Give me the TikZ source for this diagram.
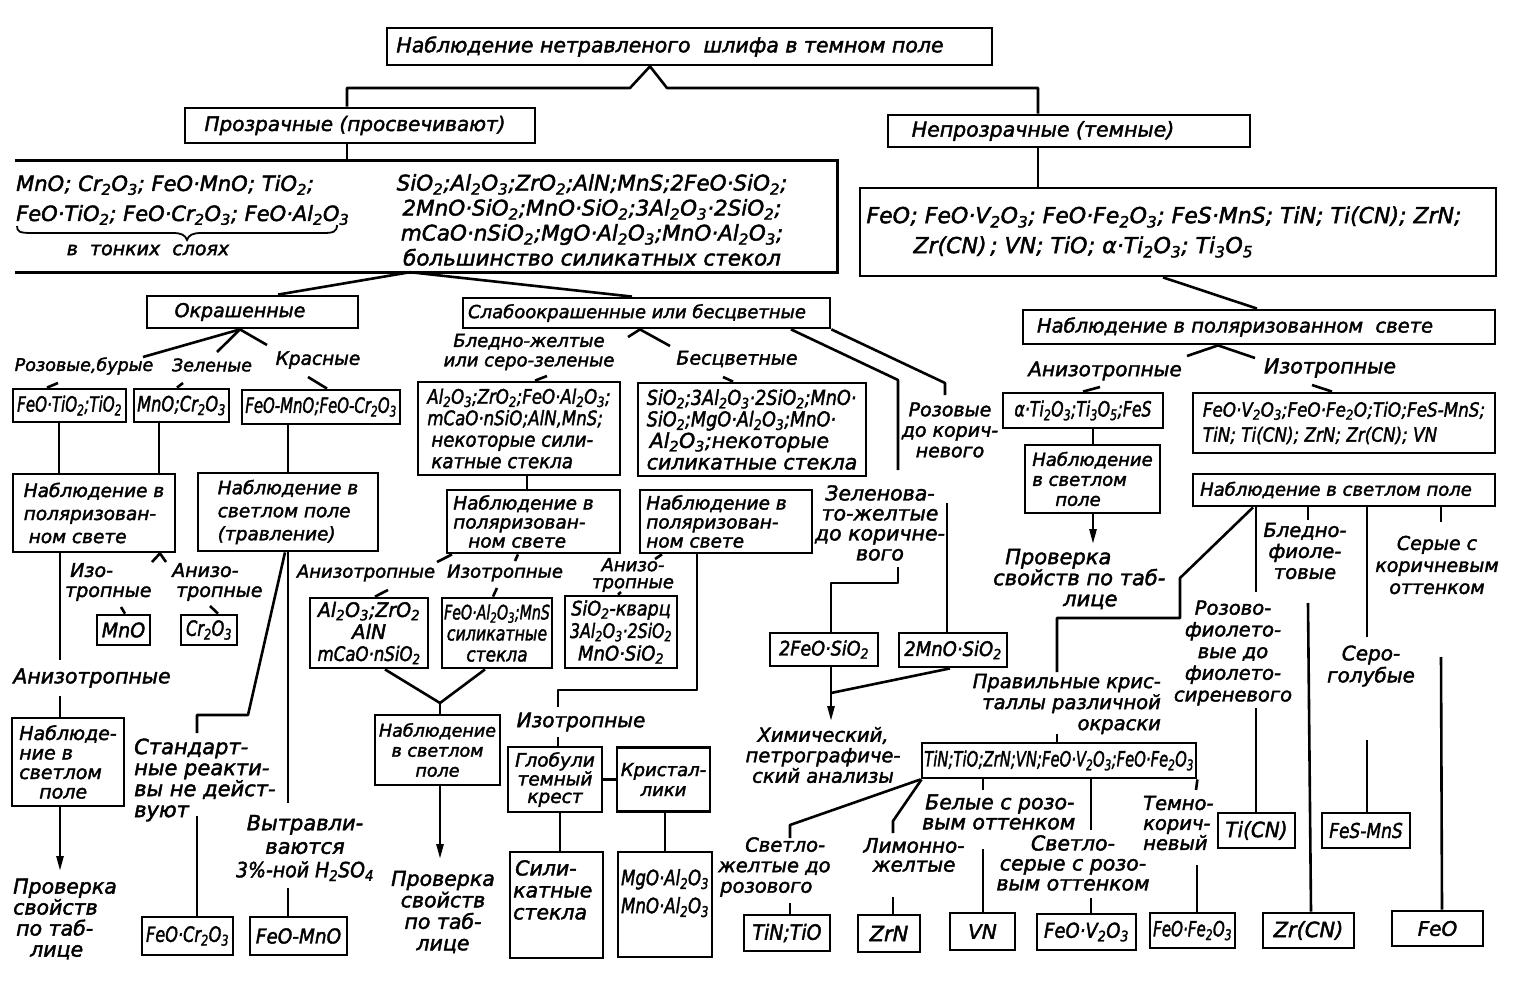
\documentclass[tikz,border=0pt]{standalone}
\usepackage{fontspec}
\usepackage{graphicx}
\usetikzlibrary{arrows.meta}
\newfontfamily\dvs{DejaVu Sans}[FakeBold=2]
\newcommand\fz[2]{\dvs\itshape\fontsize{#1}{#2}\selectfont}
\newcommand\ssb[1]{\textsubscript{#1}}
\newcommand\hx[2]{\scalebox{#1}[1]{#2}}
\tikzset{
 bx/.style={draw, line width=2.8pt, inner sep=0pt, align=center},
 tx/.style={inner sep=0pt, align=center},
 ln/.style={line width=2.6pt, line join=round},
 arr/.style={line width=2.6pt, -{Triangle[length=15pt,width=7pt]}},
}
\begin{document}
\begin{tikzpicture}[x=1pt,y=-1pt]
\useasboundingbox (0,0) rectangle (1518,987);

% ---------- top level
\node[bx, minimum width=605pt, minimum height=37pt, font={\fz{20.5}{24}}] (T) at (689.5,46.5) {Наблюдение нетравленого\ \ шлифа в темном поле\hspace*{39pt}};
\node[bx, minimum width=350pt, minimum height=35pt, font={\fz{20}{24}}] (B2) at (360,125.5) {Прозрачные (просвечивают)\hspace*{10pt}};
\node[bx, minimum width=362pt, minimum height=32pt, font={\fz{20.5}{24}}] (B3) at (1069,131) {Непрозрачные (темные)\hspace*{52pt}};

% left open box
\node[minimum width=822pt, minimum height=111pt, inner sep=0pt] (LB) at (426,216.5) {};
\draw[line width=2.6pt] (LB.north west) -- (LB.north east) -- (LB.south east) -- (LB.south west);
\node[tx, align=left, anchor=west, font={\fz{21}{30}}] (LT1) at (16,200) {MnO; Cr\ssb2O\ssb3; FeO·MnO; TiO\ssb2;\\FeO·TiO\ssb2; FeO·Cr\ssb2O\ssb3; FeO·Al\ssb2O\ssb3};
\draw[line width=1.8pt] (17,226) .. controls (17,232) and (20,233) .. (32,233) -- (172,233) .. controls (182,233) and (185,235) .. (187,240) .. controls (189,235) and (192,233) .. (202,233) -- (323,233) .. controls (333,233) and (337,232) .. (337,225);
\node[tx, font={\fz{19}{22}}] (LT3) at (148,250) {в\ \ тонких\ \ слоях};
\node[tx, font={\fz{21.5}{25}}] (LT2) at (592,220) {SiO\ssb2;Al\ssb2O\ssb3;ZrO\ssb2;AlN;MnS;2FeO·SiO\ssb2;\\2MnO·SiO\ssb2;MnO·SiO\ssb2;3Al\ssb2O\ssb3·2SiO\ssb2;\\mCaO·nSiO\ssb2;MgO·Al\ssb2O\ssb3;MnO·Al\ssb2O\ssb3;\\большинство силикатных стекол};

% right formula box
\node[bx, minimum width=636pt, minimum height=88pt, align=left, font={\fz{22}{30}}] (RB) at (1178,232) {FeO; FeO·V\ssb2O\ssb3; FeO·Fe\ssb2O\ssb3; FeS·MnS; TiN; Ti(CN); ZrN;\hspace*{28pt}\\\hspace*{47pt}Zr(CN)\,; VN; TiO; α·Ti\ssb2O\ssb3; Ti\ssb3O\ssb5};

\draw[ln] (T.south -| 650,0) -- (630,88) -- (347,88) -- (B2.north -| 347,0);
\draw[ln] (T.south -| 650,0) -- (667,88) -- (1038,88) -- (B3.north -| 1038,0);
\draw[ln] (B2.south -| 347,0) -- (LB.north -| 347,0);
\draw[ln] (B3.south -| 1038,0) -- (RB.north -| 1038,0);

% ---------- coloured branch
\node[bx, minimum width=211pt, minimum height=32pt, font={\fz{19}{22}}] (OK) at (252.5,312) {Окрашенные\hspace*{25pt}};
\node[bx, minimum width=367pt, minimum height=30pt, font={\fz{18}{20}}] (SL) at (646.5,313) {Слабоокрашенные или бесцветные\hspace*{19pt}};
\draw[ln] (LB.south -| 410,0) -- (OK.north -| 278,0);
\draw[ln] (LB.south -| 410,0) -- (SL.north -| 632,0);

\draw[ln] (143,357) -- (OK.south -| 240,0) -- (267,345);
\draw[ln] (OK.south -| 240,0) -- (217,352);
\node[tx, font={\fz{17.5}{20}}] (Lroz) at (84,366) {Розовые,бурые};
\node[tx, font={\fz{17.5}{20}}] (Lzel) at (212,365) {Зеленые};
\node[tx, font={\fz{18.5}{20}}] (Lkr) at (318,360) {Красные};

\node[bx, minimum width=113pt, minimum height=33pt, font={\fz{21}{22}}] (B5a) at (69.5,405.5) {\hx{0.72}{FeO·TiO\ssb2;TiO\ssb2}};
\node[bx, minimum width=95pt, minimum height=33pt, font={\fz{21}{22}}] (B5b) at (181.5,405.5) {\hx{0.77}{MnO;Cr\ssb2O\ssb3}};
\node[bx, minimum width=158pt, minimum height=34pt, font={\fz{21}{22}}] (B5c) at (321,407) {\hx{0.71}{FeO-MnO;FeO-Cr\ssb2O\ssb3}};
\draw[ln] (B5a.north -| 47,0) -- (58,383);
\draw[ln] (B5b.north -| 177,0) -- (183,383);
\draw[ln] (B5c.north -| 327,0) -- (308,377);

\node[bx, minimum width=162pt, minimum height=78pt, align=left, font={\fz{18.5}{23}}] (P1) at (94,513) {Наблюдение в\\поляризован-\\\hspace*{5pt}ном свете};
\node[bx, minimum width=180pt, minimum height=78pt, align=left, font={\fz{18.5}{23}}] (S1) at (288,512) {Наблюдение в\\светлом поле\\(травление)};
\draw[ln] (B5a.south -| 59,0) -- (P1.north -| 59,0);
\draw[ln] (B5b.south -| 159,0) -- (P1.north -| 159,0);
\draw[ln] (B5c.south -| 288,0) -- (S1.north -| 288,0);

\draw[ln] (152,562) -- (P1.south -| 160,0) -- (166,562);
\node[tx, align=left, anchor=west, font={\fz{19}{20}}] (Liz) at (65,582) {\hspace*{5pt}Изо-\\тропные};
\node[tx, align=left, anchor=west, font={\fz{19}{20}}] (Lan) at (172,582) {Анизо-\\\hspace*{4pt}тропные};
\node[bx, minimum width=53pt, minimum height=30pt, font={\fz{20}{20}}] (B6a) at (123.5,630) {\hx{0.95}{MnO}};
\node[bx, minimum width=56pt, minimum height=30pt, font={\fz{21}{20}}] (B6b) at (209,630) {\hx{0.77}{Cr\ssb2O\ssb3}};
\draw[ln] (B6a.north -| 125,0) -- (121,607);
\draw[ln] (B6b.north -| 218,0) -- (210,606);

\draw[ln] (P1.south -| 60,0) -- (60,660);
\node[tx, font={\fz{20.5}{22}}] (Lan2) at (92,678) {Анизотропные};
\node[bx, minimum width=112pt, minimum height=88pt, align=left, font={\fz{19}{19.5}}] (P2) at (68,762) {Наблюде-\\ние в\\светлом\\\hspace*{20pt}поле};
\draw[ln] (60,696) -- (P2.north -| 60,0);
\draw[arr] (P2.south -| 60,0) -- (60,871);
\node[tx, align=left, anchor=west, font={\fz{20.5}{21}}] (Lpr1) at (13,919) {Проверка\\свойств\\\hspace*{3pt}по таб-\\\hspace*{17pt}лице};

\draw[ln] (S1.south -| 288,0) -- (288,803);
\draw[ln] (S1.south -| 285,0) -- (248,715) -- (197,715) -- (197,733);
\node[tx, align=left, anchor=west, font={\fz{21}{21}}] (Lst) at (134,780) {Стандарт-\\ные реакти-\\вы не дейст-\\вуют};
\node[tx, font={\fz{21}{23.5}}] (Lvy) at (305,848) {Вытравли-\\ваются\\\hx{0.9}{3\%-ной H\ssb2SO\ssb4}};
\node[bx, minimum width=91pt, minimum height=38pt, font={\fz{21}{22}}] (B7a) at (187.5,936) {\hx{0.77}{FeO·Cr\ssb2O\ssb3}};
\node[bx, minimum width=97pt, minimum height=38pt, font={\fz{20.5}{22}}] (B7b) at (298.5,936) {\hx{0.9}{FeO-MnO}};
\draw[ln] (197,816) -- (B7a.north -| 197,0);
\draw[ln] (288,888) -- (B7b.north -| 288,0);

% ---------- weakly coloured branch
\draw[ln] (628,337) -- (SL.south -| 640,0) -- (670,346);
\draw[ln] (SL.south -| 791,0) -- (898,380) -- (898,470);
\draw[ln] (SL.south east) -- (945,383) -- (945,395);
\node[tx, font={\fz{18}{19.5}}] (Lbl) at (529,352) {Бледно-желтые\\или серо-зеленые};
\node[tx, font={\fz{19}{20}}] (Lbs) at (737,359) {Бесцветные};

\node[bx, minimum width=202pt, minimum height=93pt, align=left, font={\fz{20}{21.5}}] (M1) at (519,428.5) {\hx{0.83}{Al\ssb2O\ssb3;ZrO\ssb2;FeO·Al\ssb2O\ssb3;}\\\hx{0.83}{mCaO·nSiO;AlN,MnS;}\\\hspace*{4pt}\hx{0.91}{некоторые сили-}\\\hspace*{4pt}\hx{0.91}{катные стекла}};
\node[bx, minimum width=228pt, minimum height=93pt, align=left, font={\fz{20.5}{21.5}}] (M2) at (752,429.5) {\hx{0.86}{SiO\ssb2;3Al\ssb2O\ssb3·2SiO\ssb2;MnO·}\\\hx{0.86}{SiO\ssb2;MgO·Al\ssb2O\ssb3;MnO·}\\\hspace*{3pt}Al\ssb2O\ssb3;некоторые\\силикатные стекла};
\draw[ln] (M1.north -| 535,0) -- (547,376);
\draw[ln] (M2.north -| 733,0) -- (723,377);

\node[bx, minimum width=173pt, minimum height=63pt, align=left, font={\fz{18.5}{19}}] (P3) at (533.5,521.5) {Наблюдение в\hspace*{20pt}\\поляризован-\\\hspace*{15pt}ном свете};
\node[bx, minimum width=172pt, minimum height=63pt, align=left, font={\fz{18.5}{19}}] (P4) at (726,521.5) {Наблюдение в\hspace*{19pt}\\поляризован-\\ном свете};
\draw[ln] (M1.south -| 527,0) -- (P3.north -| 527,0);

\draw[ln] (P3.south -| 452,0) -- (437,562);
\draw[ln] (P3.south -| 518,0) -- (515,561);
\node[tx, font={\fz{18}{20}}] (La3) at (366,573) {Анизотропные};
\node[tx, font={\fz{18}{20}}] (Li3) at (505,573) {Изотропные};
\draw[ln] (P4.south -| 662,0) -- (655,559);
\node[tx, font={\fz{18}{17}}] (La4) at (633,575) {Анизо-\\тропные};

\node[bx, minimum width=118pt, minimum height=70pt, font={\fz{20}{22}}] (B8a) at (369,633) {\hx{0.95}{Al\ssb2O\ssb3;ZrO\ssb2}\\AlN\\\hx{0.83}{mCaO·nSiO\ssb2}};
\node[bx, minimum width=110pt, minimum height=70pt, font={\fz{20}{21}}] (B8b) at (497,633) {\hx{0.71}{FeO·Al\ssb2O\ssb3;MnS}\\\hx{0.79}{силикатные}\\\hx{0.85}{стекла}};
\node[bx, minimum width=112pt, minimum height=72pt, font={\fz{20}{22.5}}] (B8c) at (621,632) {\hx{0.88}{SiO\ssb2-кварц}\\\hx{0.79}{3Al\ssb2O\ssb3·2SiO\ssb2}\\\hx{0.9}{MnO·SiO\ssb2}};
\draw[ln] (B8a.north -| 375,0) -- (388,590);
\draw[ln] (B8b.north -| 493,0) -- (497,588);
\draw[ln] (B8c.north -| 618,0) -- (621,592);

\draw[ln] (P4.south -| 697,0) -- (697,690) -- (558,690) -- (558,707);
\node[tx, font={\fz{20}{22}}] (Li4) at (581,722) {Изотропные};

\node[bx, minimum width=125pt, minimum height=70pt, font={\fz{17.5}{20}}] (P5) at (437.5,750) {Наблюдение\\в светлом\\поле};
\draw[ln] (B8a.south -| 385,0) -- (440,703) -- (B8b.south -| 485,0);
\draw[ln] (440,703) -- (P5.north -| 440,0);
\draw[arr] (P5.south -| 440,0) -- (440,859);
\node[tx, font={\fz{20.5}{21.5}}] (Lpr2) at (443,912) {Проверка\\свойств\\по таб-\\лице};

\node[bx, minimum width=94pt, minimum height=65pt, font={\fz{18.5}{17.5}}] (G1) at (555,779.5) {Глобули\\темный\\крест};
\node[bx, minimum width=93pt, minimum height=64pt, font={\fz{18}{20}}] (Kr1) at (663.5,779.5) {Кристал-\\лики};
\draw[ln] (558,737) -- (G1.north -| 558,0);
\draw[ln] (G1.east) -- (Kr1.west);
\node[bx, minimum width=93pt, minimum height=106pt] (G2) at (556.5,905) {};
\node[tx, align=left, anchor=north west, font={\fz{20.5}{22}}] (G2t) at (513,860) {\hspace*{2pt}Сили-\\катные\\стекла};
\node[bx, minimum width=94pt, minimum height=105pt] (G3) at (665,904.5) {};
\node[tx, anchor=north, font={\fz{21}{28}}] (G3t) at (665,869) {\hx{0.79}{MgO·Al\ssb2O\ssb3}\\\hx{0.79}{MnO·Al\ssb2O\ssb3}};
\draw[ln] (G1.south -| 560,0) -- (G2.north -| 560,0);
\draw[ln] (Kr1.south -| 665,0) -- (G3.north -| 665,0);

\node[tx, font={\fz{20.5}{20}}] (Lzv) at (880,523) {Зеленова-\\то-желтые\\до коричне-\\вого};
\node[tx, font={\fz{19}{20.5}}] (Lrz) at (950,430) {Розовые\\до корич-\\невого};
\node[bx, minimum width=108pt, minimum height=33pt, font={\fz{20}{22}}] (F2) at (824,649.5) {\hx{0.88}{2FeO·SiO\ssb2}};
\node[bx, minimum width=108pt, minimum height=34pt, font={\fz{20}{22}}] (M3) at (953,650) {\hx{0.9}{2MnO·SiO\ssb2}};
\draw[ln] (898,567) -- (898,583) -- (831,583) -- (F2.north -| 831,0);
\draw[ln] (947,503) -- (M3.north -| 947,0);
\draw[arr] (F2.south -| 831,0) -- (831,721);
\draw[ln] (M3.south -| 950,0) -- (831,693);
\node[tx, font={\fz{19.5}{20.5}}] (Lhm) at (823,755) {Химический,\\петрографиче-\\ский анализы};

% ---------- opaque branch
\node[bx, minimum width=472pt, minimum height=34pt, font={\fz{19.5}{22}}] (RP) at (1259,327) {Наблюдение в поляризованном\ \ свете\hspace*{48pt}};
\draw[ln] (RB.south -| 1163,0) -- (RP.north -| 1257,0);
\draw[ln] (1187,356) -- (RP.south -| 1218,0) -- (1255,358);
\node[tx, font={\fz{20}{22}}] (Lan5) at (1105,371) {Анизотропные};
\node[tx, font={\fz{20.5}{22}}] (Liz5) at (1330,368) {Изотропные};
\node[bx, minimum width=160pt, minimum height=35pt, font={\fz{21}{22}}] (RA) at (1083,410.5) {\hx{0.75}{α·Ti\ssb2O\ssb3;Ti\ssb3O\ssb5;FeS}};
\node[bx, minimum width=302pt, minimum height=60pt, align=left, font={\fz{19.5}{25}}] (RI) at (1344,423) {\hx{0.86}{FeO·V\ssb2O\ssb3;FeO·Fe\ssb2O;TiO;FeS-MnS;}\\\hx{0.86}{TiN; Ti(CN); ZrN; Zr(CN); VN}};
\draw[ln] (RA.north -| 1083,0) -- (1100,387);
\draw[ln] (RI.north -| 1332,0) -- (1312,385);

\node[bx, minimum width=135pt, minimum height=68pt, align=left, font={\fz{18}{20}}] (RS1) at (1092.5,479) {Наблюдение\\в светлом\\\hspace*{23pt}поле};
\draw[ln] (RA.south -| 1093,0) -- (RS1.north -| 1093,0);
\draw[arr] (RS1.south -| 1093,0) -- (1093,544);
\node[tx, align=left, anchor=west, font={\fz{21}{21}}] (Lpr3) at (993,579) {\hspace*{12pt}Проверка\\свойств по таб-\\\hspace*{70pt}лице};

\node[bx, minimum width=302pt, minimum height=32pt, font={\fz{18}{20}}] (RS2) at (1344,490) {Наблюдение в светлом поле\hspace*{16pt}};
\node[tx, font={\fz{19.5}{21}}] (Lbf) at (1305,551) {Бледно-\\фиоле-\\товые};
\node[tx, font={\fz{19}{22}}] (Lsk) at (1437,565) {Серые с\\коричневым\\оттенком};
\node[tx, font={\fz{20}{22}}] (Lsg) at (1371,666) {Серо-\\голубые};
\node[tx, font={\fz{19.5}{21.7}}] (Lrf) at (1233,653) {Розово-\\фиолето-\\вые до\\фиолето-\\сиреневого};
\node[bx, minimum width=77pt, minimum height=35pt, font={\fz{21}{22}}] (TC) at (1256.5,830.5) {\hx{0.95}{Ti(CN)}};
\node[bx, minimum width=88pt, minimum height=35pt, font={\fz{20.5}{22}}] (FM) at (1366,830.5) {\hx{0.83}{FeS-MnS}};
\node[bx, minimum width=91pt, minimum height=35pt, font={\fz{21}{22}}] (ZC) at (1308.5,930.5) {Zr(CN)};
\node[bx, minimum width=91pt, minimum height=35pt, font={\fz{20}{22}}] (FO) at (1437.5,928.5) {FeO};

\draw[ln] (RS2.south -| 1253,0) -- (1180,578) -- (1180,618) -- (1057,618) -- (1057,672);
\draw[ln] (RS2.south -| 1256,0) -- (1256,592);
\draw[ln] (RS2.south -| 1308,0) -- (1308,520);
\draw[ln] (1308,603) -- (ZC.north -| 1311,0);
\draw[ln] (RS2.south -| 1367,0) -- (1367,637);
\draw[ln] (1367,740) -- (FM.north -| 1367,0);
\draw[ln] (RS2.south -| 1441,0) -- (1441,522);
\draw[ln] (1441,657) -- (FO.north -| 1442,0);
\draw[ln] (1256,708) -- (TC.north -| 1256,0);

\node[tx, align=right, anchor=east, font={\fz{19.5}{21}}] (Lpk) at (1161,704) {Правильные крис-\\таллы различной\\окраски};
\node[bx, minimum width=274pt, minimum height=35pt, font={\fz{21}{22}}] (TT) at (1059,760.5) {\hx{0.705}{TiN;TiO;ZrN;VN;FeO·V\ssb2O\ssb3;FeO·Fe\ssb2O\ssb3}};
\draw[ln] (1057,734) -- (TT.north -| 1057,0);
\draw[ln] (TT.south east) -- (1196,790);

\node[tx, align=left, anchor=west, font={\fz{19.5}{20.5}}] (Lsz) at (718,867) {\hspace*{27pt}Светло-\\желтые до\\\hspace*{2pt}розового};
\node[tx, font={\fz{20}{19}}] (Llm) at (914,855) {Лимонно-\\желтые};
\node[tx, align=left, anchor=west, font={\fz{20.5}{20}}] (Lbr) at (922,812) {\hspace*{3pt}Белые с розо-\\вым оттенком};
\node[tx, font={\fz{20.5}{20}}] (Lss) at (1073,863) {Светло-\\серые с розо-\\вым оттенком};
\node[tx, align=left, anchor=west, font={\fz{19.5}{20}}] (Ltk) at (1143,823) {Темно-\\корич-\\невый};

\node[bx, minimum width=86pt, minimum height=36pt, font={\fz{21}{22}}] (TNT) at (787,933) {\hx{0.9}{TiN;TiO}};
\node[bx, minimum width=62pt, minimum height=37pt, font={\fz{21}{22}}] (ZN) at (889,933.5) {ZrN};
\node[bx, minimum width=65pt, minimum height=37pt, font={\fz{20}{22}}] (VN) at (982.5,931.5) {VN};
\node[bx, minimum width=99pt, minimum height=36pt, font={\fz{20.5}{22}}] (FV) at (1086.5,932) {\hx{0.88}{FeO·V\ssb2O\ssb3}};
\node[bx, minimum width=85pt, minimum height=35pt, font={\fz{21}{22}}] (FF) at (1192.5,930.5) {\hx{0.72}{FeO·Fe\ssb2O\ssb3}};

\draw[ln] (TT.south west) -- (790,825) -- (790,838);
\draw[ln] ([xshift=1pt]TT.south west) -- (893,821) -- (893,833);
\draw[ln] (TT.south -| 983,0) -- (983,790);
\draw[ln] (983,849) -- (VN.north -| 983,0);
\draw[ln] (TT.south -| 1091,0) -- (1091,830);
\draw[ln] (1091,898) -- (FV.north -| 1091,0);
\draw[ln] (1197,865) -- (FF.north -| 1197,0);
\draw[ln] (790,903) -- (TNT.north -| 790,0);
\draw[ln] (893,897) -- (ZN.north -| 893,0);
\end{tikzpicture}
\end{document}
